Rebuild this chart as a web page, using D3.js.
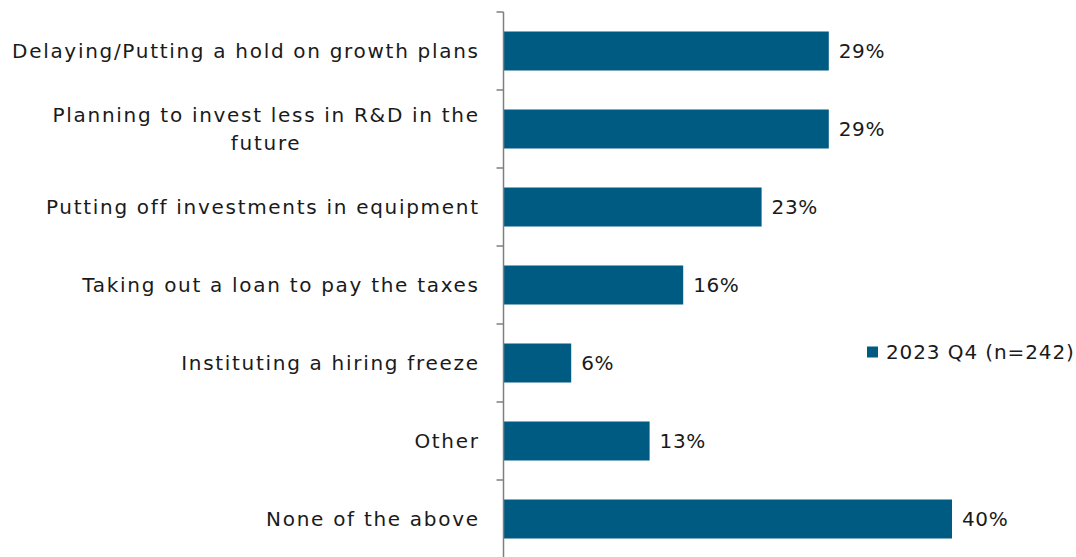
<!DOCTYPE html>
<html>
<head>
<meta charset="utf-8">
<script src="https://cdn.jsdelivr.net/npm/d3@7"></script>
<style>
  html, body { margin: 0; padding: 0; background: #fff; }
  svg { display: block; }
  text { font-family: "DejaVu Sans", sans-serif; fill: #1a1a1a; }
</style>
</head>
<body>
<svg id="chart" width="1076" height="557"></svg>
<script>
// Survey responses: actions taken because of the tax change
const categories = [
  "Delaying/Putting a hold on growth plans",
  "Planning to invest less in R&D in the future",
  "Putting off investments in equipment",
  "Taking out a loan to pay the taxes",
  "Instituting a hiring freeze",
  "Other",
  "None of the above"
];
const values = [29, 29, 23, 16, 6, 13, 40];
const seriesName = "2023 Q4 (n=242)";

const barColor = "#005b82";
const axisColor = "#7f7f7f";
const fontSize = 20;
const labelSpacing = 1.7;

const svg = d3.select("#chart");
const W = 1076, H = 557;

const x = d3.scaleLinear().domain([0, 50]).range([504, 1064]);
const y = d3.scaleBand().domain(categories).range([12, 558]).paddingInner(0.5).paddingOuter(0.25);

// bars
svg.append("g").selectAll("rect")
  .data(values)
  .join("rect")
  .attr("x", x(0))
  .attr("y", (d, i) => y(categories[i]))
  .attr("width", d => x(d) - x(0))
  .attr("height", y.bandwidth())
  .attr("fill", barColor);

// value labels
svg.append("g").selectAll("text")
  .data(values)
  .join("text")
  .attr("x", d => x(d) + 10)
  .attr("y", (d, i) => y(categories[i]) + y.bandwidth() / 2)
  .attr("dy", "0.36em")
  .attr("font-size", fontSize)
  .attr("letter-spacing", 0.6)
  .text(d => d + "%");

// category axis: line plus ticks between categories
const axisX = 503.5;
const step = y.step();
const ax = svg.append("g");
ax.append("line")
  .attr("x1", axisX).attr("x2", axisX)
  .attr("y1", 12).attr("y2", H)
  .attr("stroke", axisColor).attr("stroke-width", 1.5);
const boundaries = d3.range(categories.length + 1).map(i => y(categories[0]) - step * 0.25 + i * step);
ax.selectAll("line.tick")
  .data(boundaries)
  .join("line")
  .attr("class", "tick")
  .attr("x1", axisX - 7).attr("x2", axisX)
  .attr("y1", d => d).attr("y2", d => d)
  .attr("stroke", axisColor).attr("stroke-width", 1.5);

// category labels, wrapped to a maximum width and right-aligned as a block
const maxLabelWidth = 485;
const labelRight = 478;
const lineHeight = 28;
const lg = svg.append("g");
categories.forEach((c, i) => {
  const words = c.split(" ");
  const probe = lg.append("text").attr("font-size", fontSize).attr("letter-spacing", labelSpacing);
  const measure = s => { probe.text(s); return probe.node().getComputedTextLength() - labelSpacing; };
  const lines = [];
  let cur = [];
  words.forEach(w => {
    const trial = cur.concat(w).join(" ");
    if (measure(trial) > maxLabelWidth && cur.length) {
      lines.push(cur.join(" "));
      cur = [w];
    } else {
      cur.push(w);
    }
  });
  lines.push(cur.join(" "));
  // widest line sets the block; lines are centred inside it
  const widths = lines.map(measure);
  probe.remove();
  const blockW = d3.max(widths);
  const cy = y(c) + y.bandwidth() / 2;
  const t = lg.append("text")
    .attr("font-size", fontSize)
    .attr("letter-spacing", labelSpacing);
  lines.forEach((l, k) => {
    t.append("tspan")
      .attr("x", labelRight - blockW / 2 - widths[k] / 2)
      .attr("y", cy + (k - (lines.length - 1) / 2) * lineHeight)
      .attr("dy", "0.36em")
      .text(l);
  });
});

// legend
const legend = svg.append("g").attr("transform", "translate(867,352)");
legend.append("rect")
  .attr("x", 0).attr("y", -5.5)
  .attr("width", 11).attr("height", 11)
  .attr("fill", barColor);
legend.append("text")
  .attr("x", 19).attr("y", 0)
  .attr("dy", "0.36em")
  .attr("font-size", fontSize)
  .attr("letter-spacing", 0.9)
  .text(seriesName);
</script>
</body>
</html>
